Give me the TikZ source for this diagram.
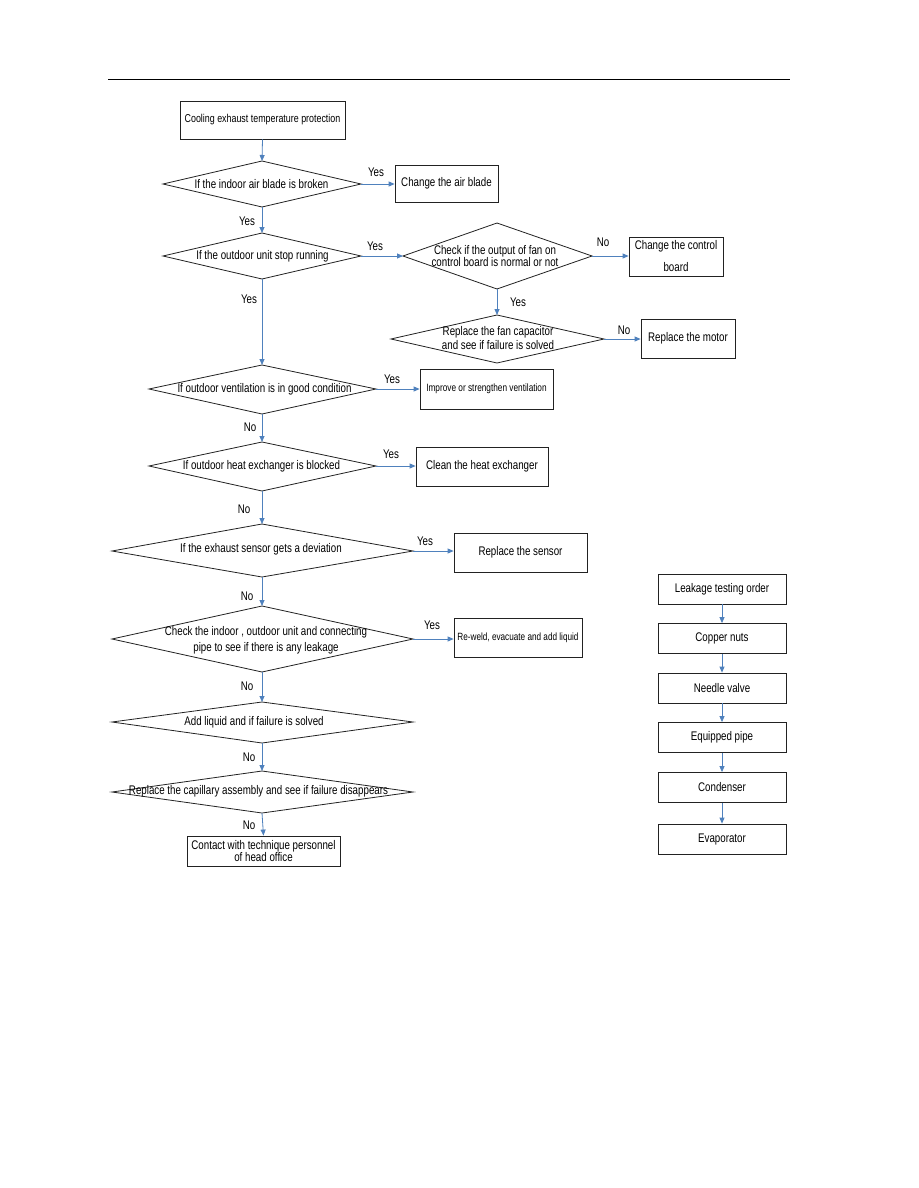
\documentclass[tikz,border=0pt]{standalone}
\usepackage{fontspec}
\setmainfont{Liberation Sans}[FakeStretch=0.78]
\usetikzlibrary{arrows.meta}
\definecolor{arrblue}{HTML}{4F81BD}
\definecolor{edge}{HTML}{222222}
\begin{document}
\begin{tikzpicture}[x=1pt,y=-1pt,
  box/.style={draw=edge, line width=0.8pt, inner sep=0pt, align=center, font=\fontsize{12.5}{14}\selectfont},
  dia/.style={draw=edge, line width=0.8pt, line join=miter},
  txt/.style={inner sep=0pt, align=center, font=\fontsize{12.5}{14}\selectfont},
  lbl/.style={inner sep=0pt, font=\fontsize{12.5}{14}\selectfont},
  arr/.style={draw=arrblue, line width=0.8pt, -{Triangle[length=6pt,width=5pt]}}]
\fill[white] (0,0) rectangle (918,1188);
\useasboundingbox (0,0) rectangle (918,1188);
% header rule
\coordinate (hl) at (108,79);
\coordinate (hr) at (790,79);
\draw[line width=0.8pt] (hl) -- (hr);

% ---------- diamonds (vertices) ----------
\foreach \n/\w/\e/\cx/\cy/\t/\b in {
  d1/163/361/262/184/161/207,
  d2/163/361/262/256/233/279,
  d3/403/592/497/256/223/289,
  d4/391/604/497/339/315/363,
  d5/149/376/262/389/365/414,
  d6/149/376/262/466/442/491,
  d7/112/413/262/551/524/577,
  d8/112/413/262/639/606/672,
  d9/112/413/262/722/702/743,
  d10/112/413/262/792/771/813}{
  \coordinate (\n w) at (\w,\cy);
  \coordinate (\n e) at (\e,\cy);
  \coordinate (\n n) at (\cx,\t);
  \coordinate (\n s) at (\cx,\b);
  \draw[dia] (\n w) -- (\n n) -- (\n e) -- (\n s) -- cycle;
}

% ---------- diamond texts ----------
\node[txt] (t1) at (261.5,184) {If the indoor air blade is broken};
\node[txt] (t2) at (262.5,256) {If the outdoor unit stop running};
\node[txt, font=\fontsize{12.5}{12}\selectfont] (t3) at (495,256) {Check if the output of fan on\\control board is normal or not};
\node[txt, font=\fontsize{12.5}{14}\selectfont] (t4) at (498,338) {Replace the fan capacitor\\and see if failure is solved};
\node[txt] (t5) at (264.5,389) {If outdoor ventilation is in good condition};
\node[txt] (t6) at (261.5,466) {If outdoor heat exchanger is blocked};
\node[txt] (t7) at (261,549) {If the exhaust sensor gets a deviation};
\node[txt, font=\fontsize{12.5}{16}\selectfont] (t8) at (266,640) {Check the indoor , outdoor unit and connecting\\pipe to see if there is any leakage};
\node[txt] (t9) at (254,722) {Add liquid and if failure is solved};
\node[txt] (t10) at (258.5,791) {Replace the capillary assembly and see if failure disappears};

% ---------- boxes ----------
\node[box, minimum width=165pt, minimum height=38pt, font=\fontsize{11.4}{13}\selectfont] (start) at (262.5,120) {Cooling exhaust temperature protection};
\node[box, minimum width=103pt, minimum height=37pt] (air) at (446.5,183.5) {Change the air blade};
\node[box, minimum width=94pt, minimum height=39pt, font=\fontsize{12.5}{22}\selectfont] (ctrl) at (676,256.5) {Change the control\\board};
\node[box, minimum width=94pt, minimum height=39pt] (motor) at (688,338.5) {Replace the motor};
\node[box, minimum width=133pt, minimum height=40pt, font=\fontsize{10.6}{12}\selectfont] (vent) at (486.5,389) {Improve or strengthen ventilation};
\node[box, minimum width=132pt, minimum height=39pt] (clean) at (482,466.5) {Clean the heat exchanger};
\node[box, minimum width=133pt, minimum height=39pt] (sensor) at (520.5,552.5) {Replace the sensor};
\node[box, minimum width=128pt, minimum height=39pt, font=\fontsize{10.5}{12}\selectfont] (weld) at (518,637.5) {Re-weld, evacuate and add liquid};
\node[box, minimum width=153pt, minimum height=30pt, font=\fontsize{12.5}{11.5}\selectfont] (contact) at (263.5,851) {Contact with technique personnel\\of head office};

% right column
\node[box, minimum width=128pt, minimum height=30pt] (r1) at (722,589) {Leakage testing order};
\node[box, minimum width=128pt, minimum height=30pt] (r2) at (722,638.5) {Copper nuts};
\node[box, minimum width=128pt, minimum height=30pt] (r3) at (722,688) {Needle valve};
\node[box, minimum width=128pt, minimum height=30pt] (r4) at (722,737.5) {Equipped pipe};
\node[box, minimum width=128pt, minimum height=30pt] (r5) at (722,787.5) {Condenser};
\node[box, minimum width=128pt, minimum height=30pt] (r6) at (722,839) {Evaporator};

% ---------- connectors ----------
\draw[arr] (start.south) -- (d1n);
\draw[arr] (d1e) -- (d1e -| air.west);
\draw[arr] (d1s) -- (d2n);
\draw[arr] (d2e) -- (d3w);
\draw[arr] (d3e) -- (d3e -| ctrl.west);
\draw[arr] (d3s) -- (d4n);
\draw[arr] (d4e) -- (d4e -| motor.west);
\draw[arr] (d2s) -- (d5n);
\draw[arr] (d5e) -- (d5e -| vent.west);
\draw[arr] (d5s) -- (d6n);
\draw[arr] (d6e) -- (d6e -| clean.west);
\draw[arr] (d6s) -- (d7n);
\draw[arr] (d7e) -- (d7e -| sensor.west);
\draw[arr] (d7s) -- (d8n);
\draw[arr] (d8e) -- (d8e -| weld.west);
\draw[arr] (d8s) -- (d9n);
\draw[arr] (d9s) -- (d10n);
\draw[arr] (d10s) -- (contact.north);
\draw[arr] (r1) -- (r2);
\draw[arr] (r2) -- (r3);
\draw[arr] (r3) -- (r4);
\draw[arr] (r4) -- (r5);
\draw[arr] (r5) -- (r6);

% ---------- labels ----------
\node[lbl] (y1) at (376,172) {Yes};
\node[lbl] (y2) at (247,221) {Yes};
\node[lbl] (y3) at (375,246) {Yes};
\node[lbl] (n3) at (603,242) {No};
\node[lbl] (y4) at (518,302) {Yes};
\node[lbl] (n4) at (624,330) {No};
\node[lbl] (y5) at (249,299) {Yes};
\node[lbl] (y6) at (392,379) {Yes};
\node[lbl] (n5) at (250,427) {No};
\node[lbl] (y7) at (391,454) {Yes};
\node[lbl] (n6) at (244,509) {No};
\node[lbl] (y8) at (425,541) {Yes};
\node[lbl] (n7) at (247,596) {No};
\node[lbl] (y9) at (432,625) {Yes};
\node[lbl] (n8) at (247,686) {No};
\node[lbl] (n9) at (249,757) {No};
\node[lbl] (n10) at (249,825) {No};
\end{tikzpicture}
\end{document}
